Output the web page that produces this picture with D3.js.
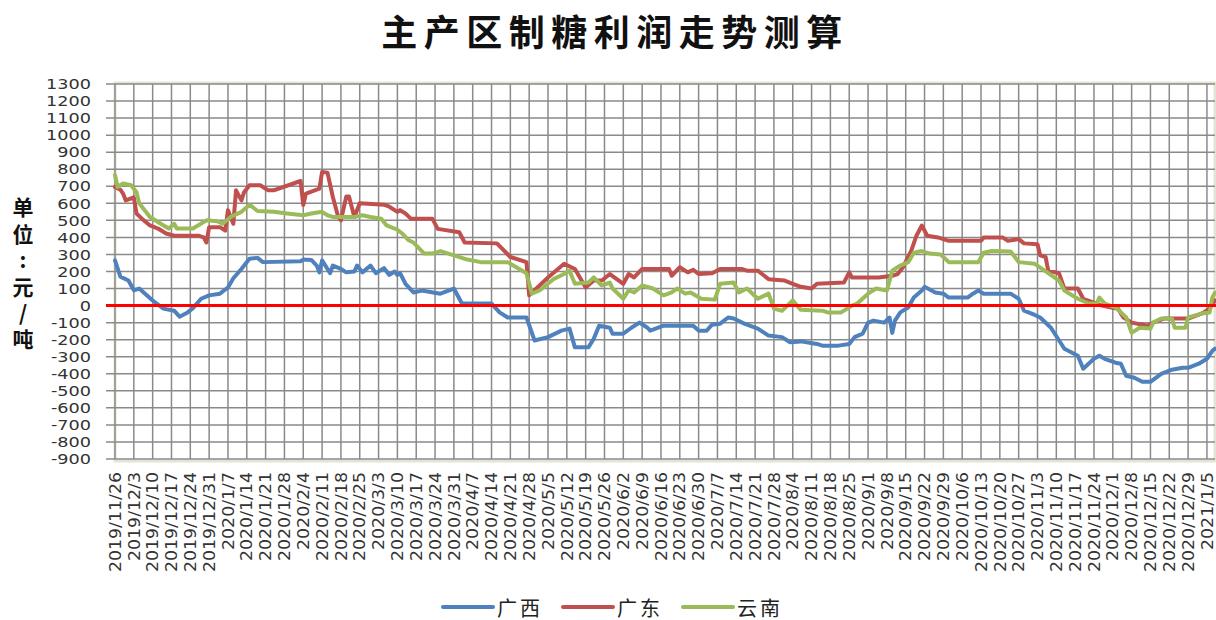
<!DOCTYPE html>
<html>
<head>
<meta charset="utf-8">
<script src="https://cdn.jsdelivr.net/npm/d3@7"></script>
<style>
  body { margin: 0; background: #fff; }
  svg { display: block; }
</style>
</head>
<body>
<svg id="chart" width="1216" height="620"></svg>
<script>
// 广西
const gxData = [
  ["2019-11-26",265],["2019-11-28",170],["2019-12-01",147],["2019-12-03",90],["2019-12-05",100],
  ["2019-12-10",30],["2019-12-14",-18],["2019-12-18",-30],["2019-12-20",-65],["2019-12-23",-40],
  ["2019-12-25",-15],["2019-12-28",40],["2019-12-31",60],["2020-01-04",70],["2020-01-07",106],
  ["2020-01-09",160],["2020-01-12",215],["2020-01-15",275],["2020-01-18",280],["2020-01-20",255],
  ["2020-02-03",260],["2020-02-04",270],["2020-02-07",268],["2020-02-09",235],["2020-02-10",195],
  ["2020-02-11",265],["2020-02-14",190],["2020-02-15",235],["2020-02-18",215],["2020-02-20",195],
  ["2020-02-23",200],["2020-02-24",235],["2020-02-26",195],["2020-02-29",235],["2020-03-02",190],
  ["2020-03-05",220],["2020-03-07",180],["2020-03-09",200],["2020-03-10",180],["2020-03-11",190],
  ["2020-03-13",128],["2020-03-16",77],["2020-03-19",88],["2020-03-26",70],["2020-03-31",100],
  ["2020-04-03",12],["2020-04-14",12],["2020-04-17",-40],["2020-04-20",-70],["2020-04-27",-70],
  ["2020-04-30",-205],["2020-05-05",-185],["2020-05-10",-147],["2020-05-13",-135],["2020-05-15",-245],
  ["2020-05-20",-245],["2020-05-22",-195],["2020-05-24",-118],["2020-05-28",-130],["2020-05-29",-165],
  ["2020-06-02",-165],["2020-06-05",-130],["2020-06-08",-100],["2020-06-11",-130],["2020-06-12",-147],
  ["2020-06-17",-118],["2020-06-28",-118],["2020-06-30",-147],["2020-07-03",-147],["2020-07-05",-112],
  ["2020-07-08",-106],["2020-07-11",-70],["2020-07-13",-76],["2020-07-17",-106],["2020-07-22",-135],
  ["2020-07-26",-176],["2020-07-31",-185],["2020-08-03",-215],["2020-08-07",-210],["2020-08-13",-225],
  ["2020-08-15",-235],["2020-08-21",-235],["2020-08-25",-225],["2020-08-27",-185],["2020-08-30",-165],
  ["2020-09-01",-100],["2020-09-03",-88],["2020-09-07",-100],["2020-09-09",-70],["2020-09-10",-160],
  ["2020-09-11",-88],["2020-09-13",-40],["2020-09-16",-10],["2020-09-18",47],["2020-09-21",88],
  ["2020-09-22",110],["2020-09-26",77],["2020-09-29",70],["2020-10-01",47],["2020-10-08",47],
  ["2020-10-10",70],["2020-10-12",88],["2020-10-14",70],["2020-10-24",70],["2020-10-27",40],
  ["2020-10-29",-30],["2020-11-02",-55],["2020-11-04",-70],["2020-11-08",-130],["2020-11-13",-253],
  ["2020-11-18",-294],["2020-11-20",-370],["2020-11-24",-312],["2020-11-26",-294],["2020-11-28",-312],
  ["2020-12-02",-335],["2020-12-04",-341],["2020-12-06",-412],["2020-12-09",-423],["2020-12-12",-447],
  ["2020-12-15",-447],["2020-12-19",-400],["2020-12-23",-376],["2020-12-27",-365],["2020-12-29",-365],
  ["2021-01-02",-341],["2021-01-05",-312],["2021-01-07",-265],["2021-01-08",-253]
];

// 广东
const gdData = [
  ["2019-11-26",696],["2019-11-28",680],["2019-11-29",657],["2019-11-30",617],["2019-12-03",635],
  ["2019-12-04",540],["2019-12-06",510],["2019-12-09",470],["2019-12-12",452],["2019-12-15",423],
  ["2019-12-18",410],["2019-12-27",410],["2019-12-29",400],["2019-12-30",370],["2019-12-31",460],
  ["2020-01-04",460],["2020-01-06",440],["2020-01-07",560],["2020-01-09",480],["2020-01-10",676],
  ["2020-01-12",617],["2020-01-13",665],["2020-01-15",706],["2020-01-19",706],["2020-01-22",676],
  ["2020-01-24",676],["2020-02-03",731],["2020-02-04",590],["2020-02-05",657],["2020-02-10",686],
  ["2020-02-11",784],["2020-02-13",780],["2020-02-15",637],["2020-02-17",520],["2020-02-18",500],
  ["2020-02-20",640],["2020-02-21",640],["2020-02-23",520],["2020-02-25",600],["2020-03-05",592],
  ["2020-03-07",580],["2020-03-10",550],["2020-03-11",560],["2020-03-13",540],["2020-03-15",510],
  ["2020-03-23",510],["2020-03-25",450],["2020-04-02",430],["2020-04-04",370],["2020-04-16",365],
  ["2020-04-21",285],["2020-04-27",255],["2020-04-28",60],["2020-04-30",90],["2020-05-05",165],
  ["2020-05-11",245],["2020-05-15",215],["2020-05-19",106],["2020-05-22",147],["2020-05-25",147],
  ["2020-05-28",185],["2020-06-02",128],["2020-06-04",185],["2020-06-06",165],["2020-06-09",215],
  ["2020-06-19",215],["2020-06-20",175],["2020-06-23",225],["2020-06-26",195],["2020-06-28",210],
  ["2020-06-30",185],["2020-07-05",190],["2020-07-08",215],["2020-07-16",215],["2020-07-18",205],
  ["2020-07-22",205],["2020-07-26",155],["2020-08-01",147],["2020-08-04",128],["2020-08-07",110],
  ["2020-08-11",100],["2020-08-13",128],["2020-08-23",135],["2020-08-25",195],["2020-08-26",165],
  ["2020-09-05",165],["2020-09-10",175],["2020-09-12",185],["2020-09-14",225],["2020-09-17",320],
  ["2020-09-19",410],["2020-09-21",470],["2020-09-23",410],["2020-09-27",400],["2020-10-01",380],
  ["2020-10-13",380],["2020-10-14",400],["2020-10-21",400],["2020-10-23",380],["2020-10-27",390],
  ["2020-10-29",365],["2020-11-03",360],["2020-11-04",295],["2020-11-06",285],["2020-11-07",205],
  ["2020-11-11",190],["2020-11-13",100],["2020-11-18",100],["2020-11-20",40],["2020-11-24",18],
  ["2020-11-27",0],["2020-11-30",-10],["2020-12-03",-18],["2020-12-04",-47],["2020-12-05",-70],
  ["2020-12-08",-100],["2020-12-14",-118],["2020-12-16",-100],["2020-12-20",-76],["2020-12-29",-76],
  ["2021-01-03",-47],["2021-01-06",-18],["2021-01-08",30]
];

// 云南
const ynData = [
  ["2019-11-26",765],["2019-11-27",696],["2019-11-29",716],["2019-12-02",706],["2019-12-04",665],
  ["2019-12-05",600],["2019-12-09",520],["2019-12-13",480],["2019-12-16",452],["2019-12-18",480],
  ["2019-12-19",452],["2019-12-25",452],["2019-12-30",500],["2020-01-03",495],["2020-01-05",480],
  ["2020-01-08",520],["2020-01-12",550],["2020-01-15",590],["2020-01-16",580],["2020-01-18",555],
  ["2020-01-24",550],["2020-01-29",540],["2020-02-04",530],["2020-02-07",540],["2020-02-11",550],
  ["2020-02-13",530],["2020-02-15",520],["2020-02-23",520],["2020-02-26",530],["2020-02-29",520],
  ["2020-03-04",510],["2020-03-06",470],["2020-03-10",445],["2020-03-12",420],["2020-03-14",385],
  ["2020-03-16",370],["2020-03-20",305],["2020-03-23",305],["2020-03-26",320],["2020-03-31",295],
  ["2020-04-05",270],["2020-04-10",255],["2020-04-20",255],["2020-04-27",190],["2020-04-29",70],
  ["2020-05-02",90],["2020-05-07",155],["2020-05-11",185],["2020-05-13",205],["2020-05-15",128],
  ["2020-05-20",135],["2020-05-22",165],["2020-05-25",118],["2020-05-28",135],["2020-05-29",100],
  ["2020-06-02",40],["2020-06-04",90],["2020-06-06",77],["2020-06-09",118],["2020-06-13",100],
  ["2020-06-17",60],["2020-06-20",77],["2020-06-22",100],["2020-06-25",70],["2020-06-27",77],
  ["2020-07-01",40],["2020-07-06",35],["2020-07-08",128],["2020-07-13",135],["2020-07-15",77],
  ["2020-07-18",100],["2020-07-22",40],["2020-07-26",70],["2020-07-28",-18],["2020-07-31",-30],
  ["2020-08-04",30],["2020-08-07",-25],["2020-08-15",-30],["2020-08-17",-40],["2020-08-22",-40],
  ["2020-08-26",0],["2020-08-28",12],["2020-09-01",70],["2020-09-04",100],["2020-09-08",88],
  ["2020-09-10",205],["2020-09-13",235],["2020-09-16",255],["2020-09-18",310],["2020-09-21",320],
  ["2020-09-24",305],["2020-09-28",300],["2020-10-01",255],["2020-10-12",255],["2020-10-14",310],
  ["2020-10-17",320],["2020-10-24",318],["2020-10-27",255],["2020-11-02",245],["2020-11-07",190],
  ["2020-11-11",147],["2020-11-13",88],["2020-11-18",40],["2020-11-22",12],["2020-11-25",12],
  ["2020-11-26",47],["2020-11-28",12],["2020-12-02",-10],["2020-12-06",-70],["2020-12-08",-160],
  ["2020-12-11",-130],["2020-12-15",-135],["2020-12-16",-100],["2020-12-19",-76],["2020-12-23",-76],
  ["2020-12-24",-130],["2020-12-28",-130],["2020-12-29",-70],["2021-01-03",-47],["2021-01-06",-40],
  ["2021-01-07",47],["2021-01-08",77]
];

const seriesNames = ["广西", "广东", "云南"];
const seriesColors = ["#4F81BD", "#C0504D", "#9BBB59"];
const yTicks = d3.range(-900, 1301, 100);
const firstTick = "2019-11-26";
const tickCount = 59;           // weekly labels up to 2021/1/5
const lastDate = "2021-01-08";
const titleText = "主产区制糖利润走势测算";
const yTitle = "单位:元/吨";

const parse = d3.timeParse("%Y-%m-%d");
const fmt = d3.timeFormat("%Y/%-m/%-d");
const t0 = parse(firstTick);
const xTicks = d3.range(tickCount).map(i => d3.timeDay.offset(t0, i * 7));

const svg = d3.select("#chart");
const plotL = 115, plotR = 1215, plotT = 84, plotB = 459;

const x = d3.scaleTime().domain([t0, parse(lastDate)]).range([plotL, plotR]);
const y = d3.scaleLinear().domain([-900, 1300]).range([plotB, plotT]);

// plot frame
svg.append("rect")
  .attr("x", plotL).attr("y", plotT - 1)
  .attr("width", plotR - plotL).attr("height", plotB - plotT + 3)
  .attr("fill", "none")
  .attr("stroke", "#E6E3D6")
  .attr("stroke-width", 3);

// grid
const grid = svg.append("g");
grid.selectAll(".hg").data(yTicks).enter().append("line")
  .attr("x1", plotL - 9).attr("x2", plotR)
  .attr("y1", d => y(d)).attr("y2", d => y(d))
  .attr("stroke", "#8a8a8a").attr("stroke-width", 1.5);
grid.selectAll(".vg").data(xTicks).enter().append("line")
  .attr("x1", d => x(d)).attr("x2", d => x(d))
  .attr("y1", plotT).attr("y2", plotB)
  .attr("stroke", "#8a8a8a").attr("stroke-width", 1.5);

// y axis labels (slightly widened, like the stretched original)
svg.append("g").selectAll("text").data(yTicks).enter().append("text")
  .attr("transform", d => `translate(91,${y(d)}) scale(1.22,1)`)
  .attr("dy", "0.36em")
  .attr("text-anchor", "end")
  .style("font-family", "'DejaVu Sans', sans-serif")
  .style("font-size", "14.5px")
  .style("fill", "#333")
  .text(d => d);

// x axis labels
svg.append("g").selectAll("text").data(xTicks).enter().append("text")
  .attr("transform", d => `translate(${x(d)},472) rotate(-90) scale(1.1,1)`)
  .attr("dy", "0.36em")
  .attr("text-anchor", "end")
  .style("font-family", "'DejaVu Sans', sans-serif")
  .style("font-size", "15.8px")
  .style("fill", "#333")
  .text(d => fmt(d));

// series
const line = d3.line()
  .x(d => x(parse(d[0])))
  .y(d => y(d[1]));

[gxData, gdData, ynData].forEach((data, i) => {
  svg.append("path")
    .datum(data)
    .attr("d", line)
    .attr("fill", "none")
    .attr("stroke", seriesColors[i])
    .attr("stroke-width", 4)
    .attr("stroke-linejoin", "round")
    .attr("stroke-linecap", "round");
});

// zero line
svg.append("line")
  .attr("x1", plotL - 9).attr("x2", 1216)
  .attr("y1", y(0)).attr("y2", y(0))
  .attr("stroke", "#FF0000").attr("stroke-width", 3);

// title
svg.append("text")
  .attr("x", 612 + 3).attr("y", 30)
  .attr("text-anchor", "middle")
  .attr("dominant-baseline", "central")
  .style("font-family", "'Noto Sans CJK SC', sans-serif")
  .style("font-weight", "700")
  .style("font-size", "36px")
  .style("letter-spacing", "6.5px")
  .style("fill", "#111")
  .text(titleText);

// y title, written vertically
svg.append("text")
  .attr("x", 23).attr("y", 197)
  .style("writing-mode", "vertical-rl")
  .style("text-orientation", "upright")
  .style("font-family", "'Noto Sans CJK SC', sans-serif")
  .style("font-weight", "700")
  .style("font-size", "21px")
  .style("letter-spacing", "5.4px")
  .style("fill", "#111")
  .text(yTitle);

// legend
const legend = svg.append("g").attr("transform", "translate(443,607)");
const item = legend.selectAll("g").data(seriesNames).enter().append("g")
  .attr("transform", (d, i) => `translate(${i * 120},0)`);
item.append("line")
  .attr("x1", 0).attr("x2", 50)
  .attr("stroke", (d, i) => seriesColors[i])
  .attr("stroke-width", 4)
  .attr("stroke-linecap", "round");
item.append("text")
  .attr("x", 54)
  .attr("dominant-baseline", "central")
  .style("font-family", "'Noto Sans CJK SC', sans-serif")
  .style("font-size", "20px")
  .style("letter-spacing", "3px")
  .style("fill", "#222")
  .text(d => d);
</script>
</body>
</html>
